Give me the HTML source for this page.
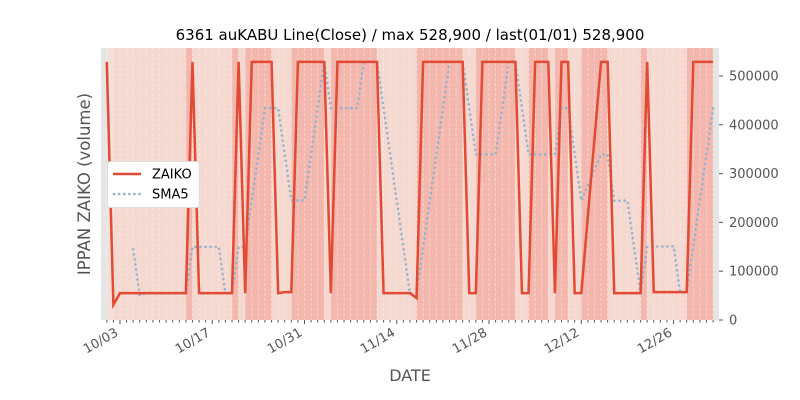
<!DOCTYPE html>
<html><head><meta charset="utf-8"><style>
body{margin:0;background:#fff;}
svg{display:block;font-family:"DejaVu Sans","Liberation Sans",sans-serif;}
</style></head><body>
<svg id="s" width="800" height="400" viewBox="0 0 800 400">
<rect x="101" y="48" width="618" height="272" fill="#e5e5e5"/>
<g id="bands"></g>
<g id="grid"></g>
<polyline id="sma" fill="none" stroke="#8fb0cf" stroke-width="2.6" stroke-dasharray="0.1,5" stroke-linecap="round" opacity="0.95"/>
<polyline id="zaiko" fill="none" stroke="#e24a33" stroke-width="2.5" stroke-linejoin="miter"/>
<g id="ticks" stroke="#555" stroke-width="1"></g>
<text x="410" y="40" font-size="15" text-anchor="middle" fill="#000">6361 auKABU Line(Close) / max 528,900 / last(01/01) 528,900</text>
<g font-size="13" fill="#555">
<text x="729" y="324.5">0</text>
<text x="729" y="275.7">100000</text>
<text x="729" y="226.9">200000</text>
<text x="729" y="178.1">300000</text>
<text x="729" y="129.3">400000</text>
<text x="729" y="80.5">500000</text>
<line x1="719" y1="320" x2="723" y2="320" stroke="#555"/>
<line x1="719" y1="271.2" x2="723" y2="271.2" stroke="#555"/>
<line x1="719" y1="222.4" x2="723" y2="222.4" stroke="#555"/>
<line x1="719" y1="173.6" x2="723" y2="173.6" stroke="#555"/>
<line x1="719" y1="124.8" x2="723" y2="124.8" stroke="#555"/>
<line x1="719" y1="76" x2="723" y2="76" stroke="#555"/>
<text transform="translate(119,335) rotate(-30)" text-anchor="end">10/03</text>
<text transform="translate(211,335) rotate(-30)" text-anchor="end">10/17</text>
<text transform="translate(303,335) rotate(-30)" text-anchor="end">10/31</text>
<text transform="translate(396,335) rotate(-30)" text-anchor="end">11/14</text>
<text transform="translate(488,335) rotate(-30)" text-anchor="end">11/28</text>
<text transform="translate(580,335) rotate(-30)" text-anchor="end">12/12</text>
<text transform="translate(673,335) rotate(-30)" text-anchor="end">12/26</text>
</g>
<text x="410" y="381" font-size="16" fill="#555" text-anchor="middle">DATE</text>
<text transform="translate(90,184) rotate(-90)" font-size="16.5" fill="#555" text-anchor="middle">IPPAN ZAIKO (volume)</text>
<rect x="107.5" y="161.5" width="92" height="46" rx="3" fill="#fff" stroke="#ddd"/>
<line x1="113" y1="174" x2="141" y2="174" stroke="#e24a33" stroke-width="2.5"/>
<line x1="114" y1="194" x2="141" y2="194" stroke="#8fb0cf" stroke-width="2.6" stroke-dasharray="0.1,5" stroke-linecap="round"/>
<text x="152" y="178.5" font-size="13" fill="#000">ZAIKO</text>
<text x="152" y="198.5" font-size="13" fill="#000">SMA5</text>
</svg>
<script>
var H=528.9,L=55;
var d=[H,31];
for(var i=2;i<=12;i++)d.push(L);
d.push(H);
for(i=14;i<=19;i++)d.push(L);
d.push(H);d.push(L);
for(i=22;i<=25;i++)d.push(H);
d.push(L,57,57);
for(i=29;i<=33;i++)d.push(H);
d.push(L);
for(i=35;i<=41;i++)d.push(H);
for(i=42;i<=46;i++)d.push(L);
d.push(45);
for(i=48;i<=54;i++)d.push(H);
d.push(L,L);
for(i=57;i<=62;i++)d.push(H);
d.push(L,L);
d.push(H,H,H);
d.push(L);
d.push(H,H);
d.push(L,L);
d.push(null,null,H,H);
for(i=77;i<=81;i++)d.push(L);
d.push(H);
for(i=83;i<=88;i++)d.push(57);
for(i=89;i<=92;i++)d.push(H);
function X(i){return 106.8+i*6.59;}
function Y(v){return 320-v*1000*0.000488;}
var ns="http://www.w3.org/2000/svg";
function el(t,a,p){var e=document.createElementNS(ns,t);for(var k in a)e.setAttribute(k,a[k]);document.getElementById(p).appendChild(e);}
function mix(a,b,f){var r=[];for(var k=0;k<3;k++)r.push(Math.round(a[k]+(b[k]-a[k])*f));return "rgb("+r.join(",")+")";}
var pts=[];for(i=0;i<d.length;i++)if(d[i]!==null)pts.push([i,d[i]]);
for(var k=1;k<pts.length;k++){
 var v=pts[k][1],c,i0=pts[k-1][0],i1=pts[k][0];
 if(v<40)c="#f1e1da";else{var f=Math.max(0,Math.min(1,(v-55)/(H-55)));c=mix([245,216,207],[243,183,173],f);}
 el("rect",{x:X(i0),y:48,width:X(i1)-X(i0)+0.1,height:272,fill:c},"bands");
}
for(i=0;i<d.length;i++){
 el("line",{x1:X(i),y1:48,x2:X(i),y2:320,stroke:"#fff","stroke-opacity":"0.45","stroke-width":"0.8","stroke-dasharray":"3,2"},"grid");
 var maj=((i-2)%14===0);
 el("line",{x1:X(i),y1:320,x2:X(i),y2:maj?324:322.5},"ticks");
}
var p=[];for(k=0;k<pts.length;k++)p.push(X(pts[k][0])+","+Y(pts[k][1]));
document.getElementById("zaiko").setAttribute("points",p.join(" "));
var q=[];for(k=4;k<pts.length;k++){var s=0;for(var j=k-4;j<=k;j++)s+=pts[j][1];q.push(X(pts[k][0])+","+Y(s/5));}
document.getElementById("sma").setAttribute("points",q.join(" "));
</script>
</body></html>
